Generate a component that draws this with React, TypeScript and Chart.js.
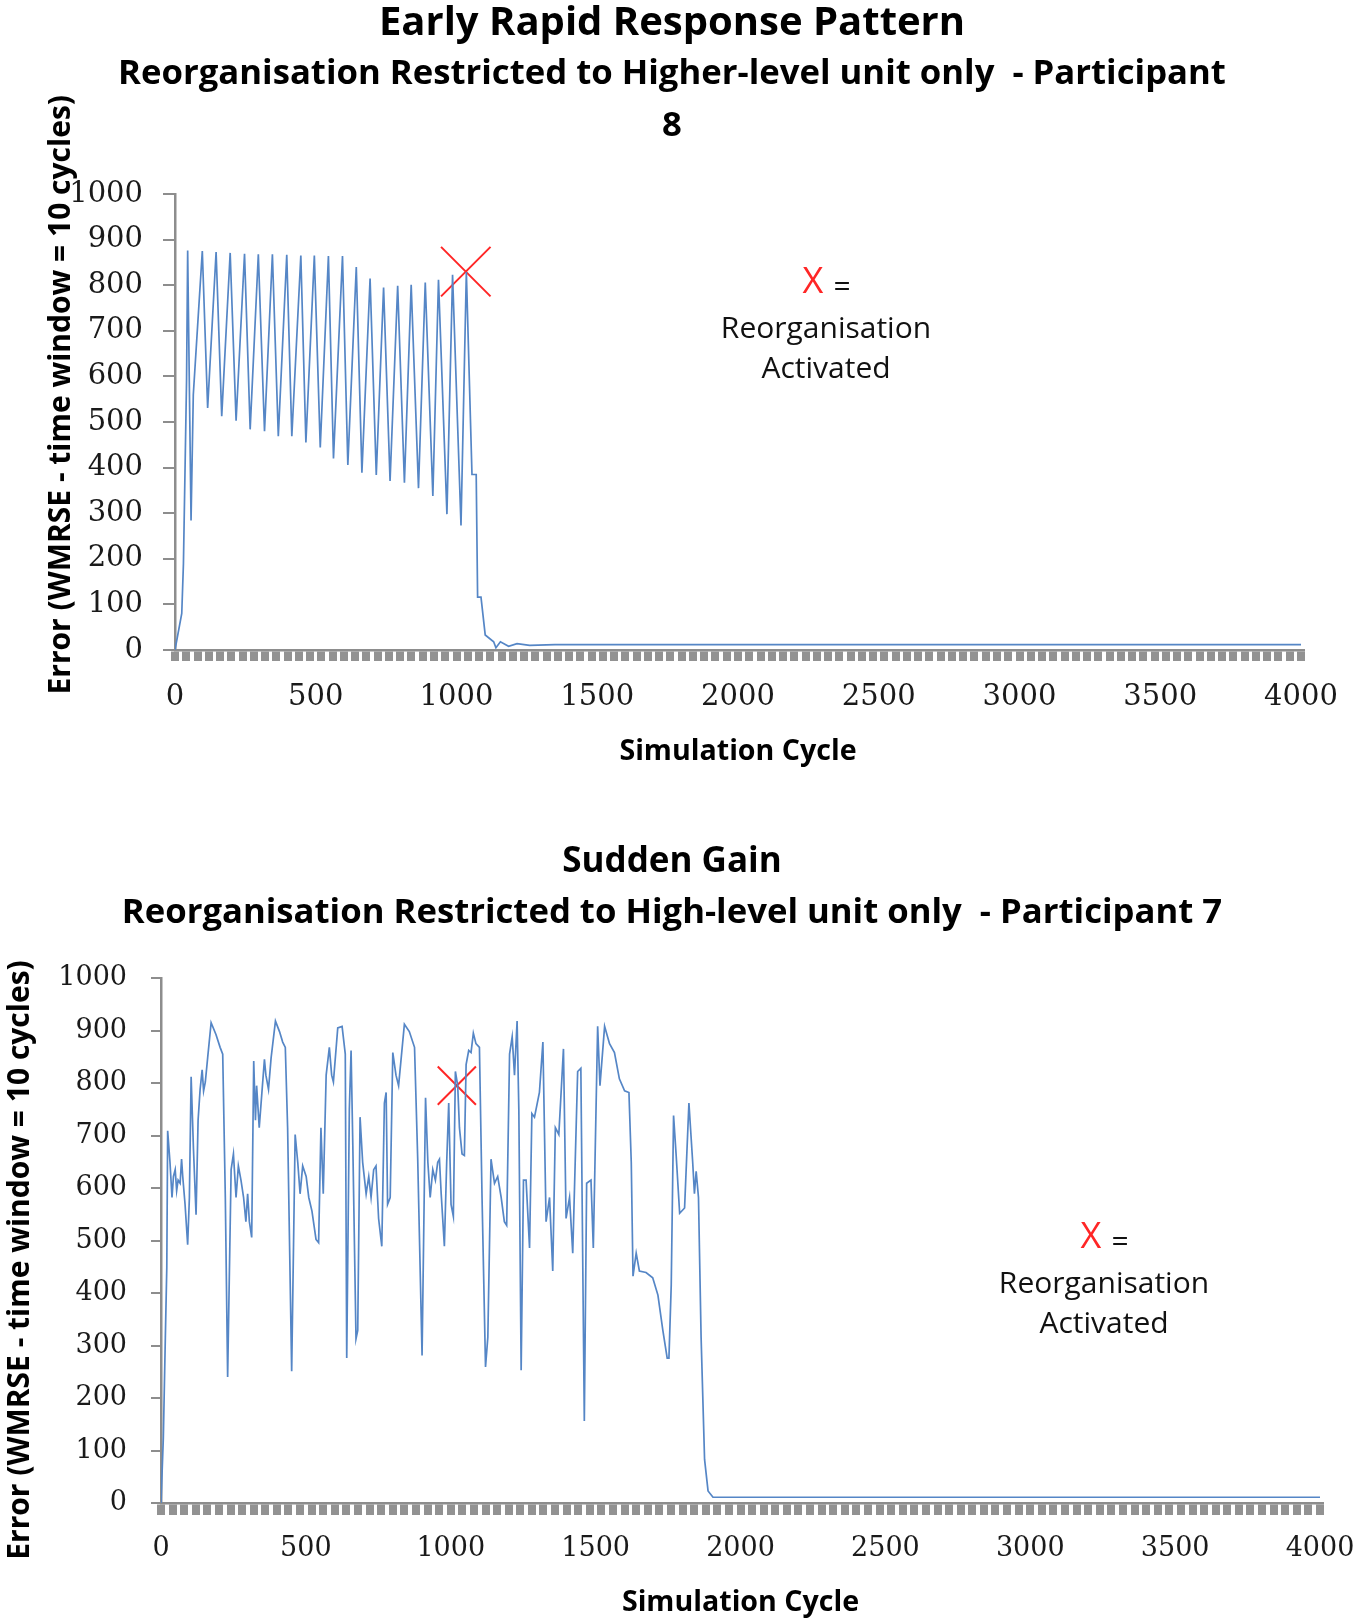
import React, { useEffect, useRef } from "react";
import { Chart, registerables } from "chart.js";

Chart.register(...registerables);

// Participant 8 - early rapid response pattern (simulation cycle, error)
const p8Cycles = [
  0, 24, 30, 41, 45, 57, 65, 97, 116, 146, 166, 196, 217, 247, 267, 296, 318, 346, 367, 397,
  415, 447, 465, 495, 516, 545, 563, 595, 614, 644, 664, 693, 715, 741, 764, 791, 815, 839, 865,
  889, 916, 936, 966, 986, 1016, 1035, 1055, 1070, 1075, 1087, 1102, 1132, 1140, 1156, 1185, 1215,
  1260, 1350, 4000,
];
const p8Error = [
  0, 80, 190, 590, 876, 284, 560, 875, 531, 873, 513, 871, 503, 869, 484, 868, 480, 868, 469, 867,
  469, 865, 455, 865, 444, 864, 420, 864, 406, 840, 389, 815, 384, 795, 371, 799, 367, 801, 355,
  806, 338, 812, 298, 823, 273, 829, 385, 385, 116, 116, 33, 18, 5, 18, 8, 14,
  10, 12, 12,
];
const p8ReorgCycle = [1033];
const p8ReorgError = [830];

// Participant 7 - sudden gain
const p7Cycles = [
  0, 8, 15, 20, 23, 31, 38, 43, 49, 54, 59, 66, 71, 75, 83, 92, 98, 104, 112, 121, 128, 135, 142,
  147, 153, 161, 173, 190, 204, 213, 222, 230, 242, 250, 259, 267, 276, 285, 293, 299, 305, 313,
  320, 326, 330, 339, 357, 362, 371, 380, 395, 409, 420, 429, 437, 451, 463, 472, 480, 489, 501,
  510, 521, 535, 544, 552, 560, 570, 581, 589, 595, 610, 625, 636, 641, 650, 656, 662, 673, 679,
  687, 696, 708, 717, 725, 734, 742, 751, 762, 771, 777, 782, 791, 800, 811, 820, 840, 857, 875,
  886, 901, 913, 921, 929, 938, 947, 955, 961, 967, 978, 986, 993, 1001, 1009, 1016, 1024, 1030,
  1039, 1047, 1053, 1062, 1070, 1078, 1087, 1099, 1108, 1120, 1128, 1139, 1151, 1162, 1174, 1185,
  1193, 1203, 1212, 1220, 1229, 1235, 1243, 1251, 1260, 1272, 1280, 1289, 1306, 1318, 1329, 1341,
  1352, 1361, 1373, 1389, 1398, 1410, 1421, 1438, 1449, 1461, 1469, 1484, 1492, 1507, 1515, 1531,
  1548, 1565, 1582, 1600, 1615, 1623, 1629, 1640, 1651, 1674, 1697, 1715, 1732, 1747, 1753, 1761,
  1769, 1778, 1790, 1807, 1822, 1835, 1841, 1847, 1855, 1864, 1876, 1888, 1905, 4000,
];
const p7Error = [
  0, 123, 316, 449, 709, 649, 582, 622, 635, 595, 615, 609, 655, 622, 569, 492, 582, 812, 675, 549,
  729, 788, 825, 785, 802, 848, 915, 892, 868, 855, 582, 240, 635, 665, 582, 642, 615, 582, 536,
  589, 536, 506, 842, 729, 795, 715, 845, 815, 788, 848, 918, 898, 878, 868, 715, 251, 702, 649,
  589, 642, 622, 582, 556, 502, 496, 715, 589, 815, 868, 815, 802, 905, 908, 855, 276, 749, 862,
  682, 313, 329, 735, 649, 589, 622, 582, 635, 642, 542, 489, 762, 782, 569, 582, 858, 815, 795,
  912, 898, 868, 655, 281, 772, 649, 582, 635, 615, 649, 655, 589, 489, 649, 762, 569, 546, 822,
  795, 715, 665, 662, 835, 862, 858, 895, 875, 868, 582, 259, 316, 655, 609, 622, 582, 536, 529,
  855, 888, 815, 918, 749, 253, 615, 615, 486, 742, 735, 782, 878, 536, 582, 442, 715, 702, 865,
  542, 582, 476, 822, 828, 156, 609, 615, 486, 908, 795, 908, 875, 858, 808, 785, 782, 649, 432,
  476, 442, 439, 429, 396, 329, 276, 276, 416, 738, 662, 552, 562, 762, 649, 589, 632, 582, 316,
  83, 23, 11, 11,
];
const p7ReorgCycle = [1021];
const p7ReorgError = [795];

const xLabelValues = [0, 500, 1000, 1500, 2000, 2500, 3000, 3500, 4000];
const xTickStep = 40;
const yMax = 1000;
const yStep = 100;

const Y_TITLE = "Error (WMRSE - time window = 10 cycles)";

const PAGE_W = 1358;
const LINE_BLUE = "#5586c6";
const AXIS_GREY = "#8d8d8d";
const MARK_RED = "#ff2626";
const TITLE_FONT = '"Open Sans", sans-serif';
const TICK_FONT = '"DejaVu Serif", serif';

interface PanelConfig {
  cycles: number[];
  errors: number[];
  reorgCycle: number[];
  reorgError: number[];
  title: string;
  titleSize: number;
  titleLineHeight: number;
  titlePadTop: number;
  subtitle: string[];
  subtitlePadBottom: number;
  height: number;
  leftPad: number;
  yAxisWidth: number;
  rightPad: number;
  xAxisHeight: number;
  xTitlePadBottom: number;
  xTickLength: number;
  xTickPad: number;
  yTickLength: number;
  yTickPad: number;
  yTitlePadTop: number;
  yTitleLead: number;
  yTitleTrail: number;
  tickSize: number;
  markerRadius: number;
  noteX: number;
  noteY: number;
  noteSize: number;
}

const topPanel: PanelConfig = {
  cycles: p8Cycles,
  errors: p8Error,
  reorgCycle: p8ReorgCycle,
  reorgError: p8ReorgError,
  title: "Early Rapid Response Pattern",
  titleSize: 40,
  titleLineHeight: 1.2,
  titlePadTop: 0,
  subtitle: ["Reorganisation Restricted to Higher-level unit only  - Participant", "8"],
  subtitlePadBottom: 42,
  height: 790,
  leftPad: 43,
  yAxisWidth: 132,
  rightPad: 57,
  xAxisHeight: 140,
  xTitlePadBottom: 21,
  xTickLength: 11,
  xTickPad: 19,
  yTickLength: 12,
  yTickPad: 20,
  yTitlePadTop: 0,
  yTitleLead: 7,
  yTitleTrail: 0,
  tickSize: 29,
  markerRadius: 35,
  noteX: 826,
  noteY: 329,
  noteSize: 30,
};

const bottomPanel: PanelConfig = {
  cycles: p7Cycles,
  errors: p7Error,
  reorgCycle: p7ReorgCycle,
  reorgError: p7ReorgError,
  title: "Sudden Gain",
  titleSize: 35,
  titleLineHeight: 1.4,
  titlePadTop: 48,
  subtitle: ["Reorganisation Restricted to High-level unit only  - Participant 7"],
  subtitlePadBottom: 39,
  height: 831,
  leftPad: 24,
  yAxisWidth: 137,
  rightPad: 38,
  xAxisHeight: 118,
  xTitlePadBottom: 1,
  xTickLength: 12,
  xTickPad: 18,
  yTickLength: 10,
  yTickPad: 24,
  yTitlePadTop: -22,
  yTitleLead: 0,
  yTitleTrail: 5,
  tickSize: 27,
  markerRadius: 27,
  noteX: 1104,
  noteY: 494,
  noteSize: 30,
};

function makeNotePlugin(cfg: PanelConfig) {
  return {
    id: "reorgNote",
    afterDraw(chart: Chart) {
      const ctx = chart.ctx;
      ctx.save();
      ctx.textAlign = "center";
      ctx.textBaseline = "middle";
      ctx.fillStyle = MARK_RED;
      ctx.font = `${cfg.noteSize + 6}px ${TITLE_FONT}`;
      ctx.fillText("X", cfg.noteX - 13, cfg.noteY - 46);
      ctx.fillStyle = "#111";
      ctx.font = `${cfg.noteSize}px ${TITLE_FONT}`;
      ctx.fillText("=", cfg.noteX + 16, cfg.noteY - 42);
      ctx.fillText("Reorganisation", cfg.noteX, cfg.noteY);
      ctx.fillText("Activated", cfg.noteX, cfg.noteY + 40);
      ctx.restore();
    },
  };
}

function ErrorPanel({ cfg }: { cfg: PanelConfig }) {
  const canvasRef = useRef<HTMLCanvasElement>(null);

  useEffect(() => {
    if (!canvasRef.current) return;

    const tickValues: number[] = [];
    for (let v = 0; v <= 4000; v += xTickStep) tickValues.push(v);
    xLabelValues.forEach((v) => {
      if (!tickValues.includes(v)) tickValues.push(v);
    });
    tickValues.sort((a, b) => a - b);

    // the y title sits off-centre along the axis, as in the source
    const yTitle = " ".repeat(cfg.yTitleLead) + Y_TITLE + " ".repeat(cfg.yTitleTrail);

    const chart = new Chart(canvasRef.current, {
      type: "line",
      data: {
        datasets: [
          {
            data: cfg.cycles.map((c, i) => ({ x: c, y: cfg.errors[i] })),
            borderColor: LINE_BLUE,
            borderWidth: 1.7,
            pointRadius: 0,
            tension: 0,
          },
          {
            type: "scatter",
            data: cfg.reorgCycle.map((c, i) => ({ x: c, y: cfg.reorgError[i] })),
            pointStyle: "crossRot",
            pointRadius: cfg.markerRadius,
            borderColor: MARK_RED,
            borderWidth: 2,
            showLine: false,
          },
        ],
      },
      options: {
        animation: false,
        responsive: false,
        devicePixelRatio: 1,
        events: [],
        layout: { padding: { top: 0, left: cfg.leftPad, right: cfg.rightPad, bottom: 0 } },
        plugins: {
          legend: { display: false },
          tooltip: { enabled: false },
          title: {
            display: true,
            text: cfg.title,
            color: "#000",
            font: { family: TITLE_FONT, size: cfg.titleSize, weight: "bold", lineHeight: cfg.titleLineHeight },
            padding: { top: cfg.titlePadTop, bottom: 0 },
          },
          subtitle: {
            display: true,
            text: cfg.subtitle,
            color: "#000",
            font: { family: TITLE_FONT, size: 34.7, weight: "bold", lineHeight: 1.5 },
            padding: { top: 0, bottom: cfg.subtitlePadBottom },
          },
        },
        scales: {
          x: {
            type: "linear",
            min: 0,
            max: 4000,
            afterBuildTicks: (axis) => {
              axis.ticks = tickValues.map((v) => ({ value: v }));
            },
            afterFit: (axis) => {
              axis.height = cfg.xAxisHeight;
              axis.paddingLeft = 0;
              axis.paddingRight = 0;
            },
            ticks: {
              autoSkip: false,
              maxRotation: 0,
              padding: cfg.xTickPad,
              color: "#1a1a1a",
              font: { family: TICK_FONT, size: cfg.tickSize },
              callback: (value) => (xLabelValues.includes(Number(value)) ? String(value) : ""),
            },
            grid: {
              drawOnChartArea: false,
              tickLength: cfg.xTickLength,
              color: "#929292",
              lineWidth: (ctx) => (ctx.tick && ctx.tick.value % xTickStep === 0 ? 8 : 0),
            },
            border: { color: AXIS_GREY, width: 2.5 },
            title: {
              display: true,
              text: "Simulation Cycle",
              color: "#000",
              font: { family: TITLE_FONT, size: 28.6, weight: "bold", lineHeight: 1.2 },
              padding: { top: 0, bottom: cfg.xTitlePadBottom },
            },
          },
          y: {
            min: 0,
            max: yMax,
            afterFit: (axis) => {
              axis.width = cfg.yAxisWidth;
            },
            ticks: {
              stepSize: yStep,
              padding: cfg.yTickPad,
              color: "#1a1a1a",
              font: { family: TICK_FONT, size: cfg.tickSize },
              callback: (value) => String(value),
            },
            grid: {
              drawOnChartArea: false,
              tickLength: cfg.yTickLength,
              color: AXIS_GREY,
              lineWidth: 2,
            },
            border: { color: AXIS_GREY, width: 2.5 },
            title: {
              display: true,
              text: yTitle,
              color: "#000",
              font: { family: TITLE_FONT, size: 30, weight: "bold", lineHeight: 1.2 },
              padding: { top: cfg.yTitlePadTop, bottom: 0 },
            },
          },
        },
      },
      plugins: [makeNotePlugin(cfg)],
    });

    return () => {
      chart.destroy();
    };
  }, [cfg]);

  return (
    <canvas
      ref={canvasRef}
      width={PAGE_W}
      height={cfg.height}
      style={{ display: "block", width: PAGE_W, height: cfg.height }}
    />
  );
}

export default function App() {
  return (
    <div style={{ position: "absolute", top: 0, left: 0, width: PAGE_W, background: "#fff" }}>
      <ErrorPanel cfg={topPanel} />
      <ErrorPanel cfg={bottomPanel} />
    </div>
  );
}
